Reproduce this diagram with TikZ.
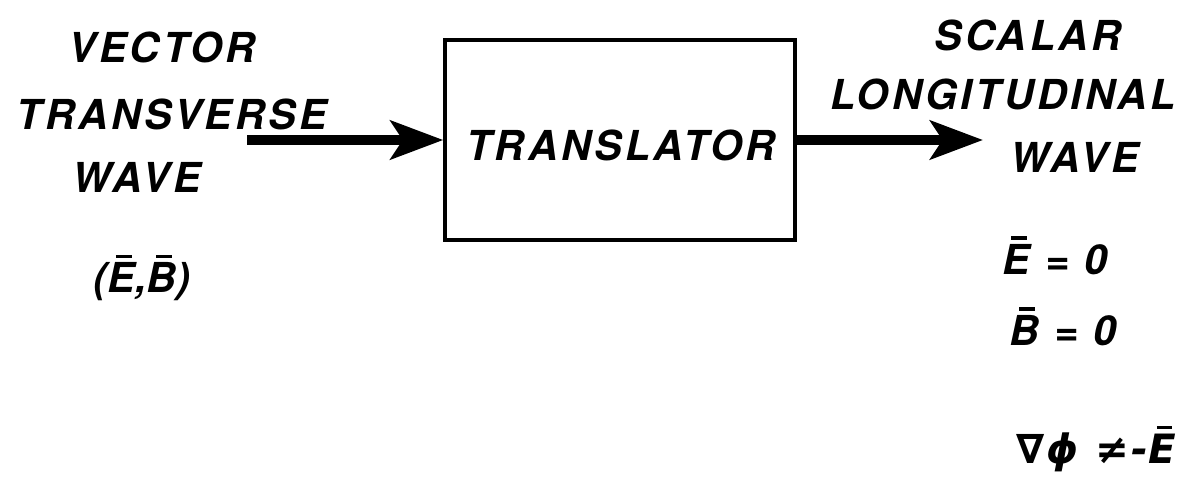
\documentclass[tikz,border=0pt]{standalone}
\usepackage{fontspec}
\usepackage{tikz}
\usetikzlibrary{arrows.meta,positioning}
\newfontfamily\heros[LetterSpace=8]{TeX Gyre Heros}
\newfontfamily\dejavu[LetterSpace=6]{DejaVu Sans}
\newcommand\vecbar[1]{\leavevmode\hbox{\ooalign{#1\cr\hidewidth\kern0.12em\rule[0.84em]{0.38em}{0.09em}\hidewidth\cr}}}
\tikzset{
    lbl/.style={inner sep=0pt, font=\fontsize{23.5}{28}\heros\bfseries\itshape},
    flow/.style={line width=5.5pt, -{Stealth[length=30pt, width=22pt, inset=7pt]}},
    block/.style={draw, line width=2pt, minimum width=7cm, minimum height=4cm}
}
\begin{document}
\begin{tikzpicture}[x=0.02cm, y=-0.02cm]
    \useasboundingbox (0,0) rectangle (1196,487);

    % Translator block
    \node[block, lbl, inner sep=0pt] (box) at (620,140) {};
    \node[lbl] (trans) at (621,145) {TRANSLATOR};

    % Input wave
    \node[lbl] (vector) at (162,47) {VECTOR};
    \node[lbl] (transverse) at (172,114) {TRANSVERSE};
    \node[lbl] (wavein) at (137,177) {WAVE};
    \node[lbl] (fieldsin) at (142,282) {(\vecbar{E},\vecbar{B})};

    % Output wave
    \node[lbl] (scalar) at (1028,35) {SCALAR};
    \node[lbl] (longit) at (1003,94) {LONGITUDINAL};
    \node[lbl] (waveout) at (1075,157) {WAVE};
    \node[lbl] (ezero) at (1055,260) {\vecbar{E} = 0};
    \node[lbl] (bzero) at (1063,331) {\vecbar{B} = 0};
    \node[lbl, font=\fontsize{23}{28}\dejavu\bfseries\itshape] (grad) at (1096,452) {∇ϕ ≠-\vecbar{E}};

    % Arrows
    \coordinate (src) at (247,140);
    \draw[flow] (src) -- (box.west);
    \draw[flow] (box.east) -- (box.east -| 983,0);
\end{tikzpicture}
\end{document}
